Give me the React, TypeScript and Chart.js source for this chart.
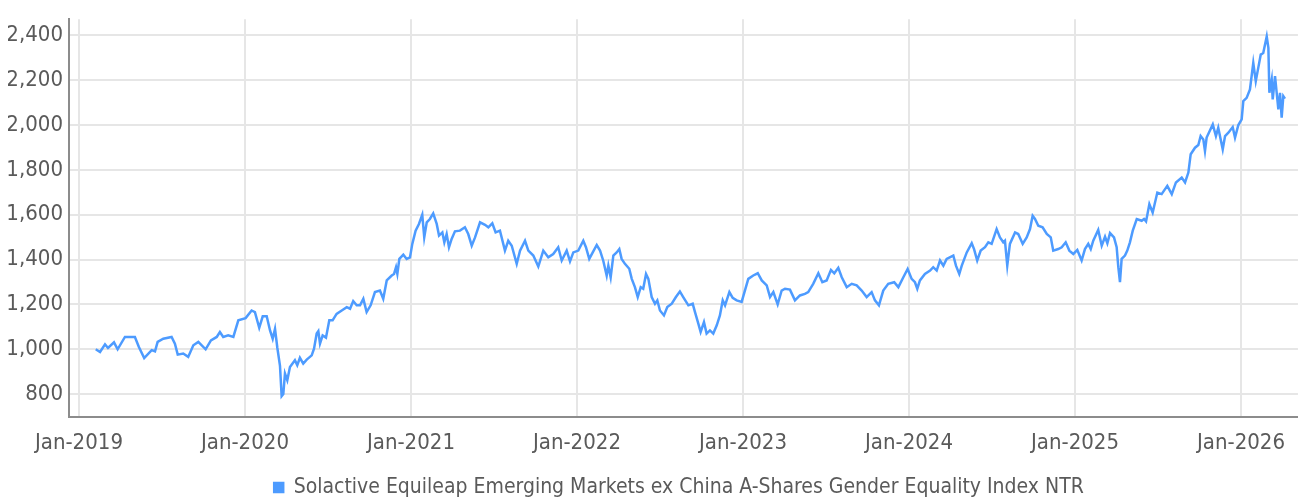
import React, { useEffect, useRef } from "react";
import { Chart, registerables } from "chart.js";

Chart.register(...registerables);

const SERIES_LABEL =
  "Solactive Equileap Emerging Markets ex China A-Shares Gender Equality Index NTR";

const yearTicks = [2019, 2020, 2021, 2022, 2023, 2024, 2025, 2026];
const valueTicks = [800, 1000, 1200, 1400, 1600, 1800, 2000, 2200, 2400];

// time expressed as decimal years
const years2019 = [2019.101, 2019.127, 2019.157, 2019.175, 2019.211, 2019.233, 2019.277, 2019.337, 2019.361, 2019.393, 2019.438, 2019.458, 2019.474, 2019.508, 2019.558, 2019.578, 2019.595, 2019.628, 2019.658, 2019.689, 2019.719, 2019.763, 2019.795, 2019.83, 2019.849, 2019.869, 2019.899, 2019.93, 2019.96];
const values2019 = [1000, 988, 1022, 1006, 1031, 1000, 1055, 1055, 1010, 961, 996, 991, 1033, 1047, 1055, 1025, 976, 981, 966, 1018, 1033, 1000, 1040, 1055, 1077, 1055, 1062, 1055, 1129];

const years2020 = [2020.004, 2020.04, 2020.06, 2020.086, 2020.107, 2020.131, 2020.151, 2020.167, 2020.181, 2020.195, 2020.211, 2020.221, 2020.231, 2020.241, 2020.255, 2020.271, 2020.301, 2020.315, 2020.331, 2020.351, 2020.372, 2020.402, 2020.416, 2020.432, 2020.442, 2020.452, 2020.468, 2020.488, 2020.508, 2020.528, 2020.552, 2020.583, 2020.613, 2020.633, 2020.652, 2020.673, 2020.693, 2020.713, 2020.733, 2020.757, 2020.783, 2020.813, 2020.833, 2020.854, 2020.884, 2020.898, 2020.91, 2020.918, 2020.93, 2020.954, 2020.974, 2020.994];
const values2020 = [1139, 1173, 1166, 1096, 1147, 1147, 1084, 1047, 1091, 1007, 926, 791, 800, 892, 862, 921, 951, 929, 962, 936, 954, 973, 1003, 1070, 1081, 1025, 1062, 1052, 1129, 1129, 1158, 1173, 1188, 1181, 1215, 1196, 1196, 1225, 1166, 1196, 1255, 1262, 1225, 1307, 1329, 1336, 1366, 1336, 1403, 1422, 1403, 1410];

const years2021 = [2021.008, 2021.028, 2021.048, 2021.068, 2021.08, 2021.095, 2021.114, 2021.134, 2021.155, 2021.169, 2021.189, 2021.201, 2021.215, 2021.229, 2021.245, 2021.265, 2021.295, 2021.325, 2021.345, 2021.366, 2021.386, 2021.416, 2021.446, 2021.466, 2021.49, 2021.51, 2021.536, 2021.566, 2021.586, 2021.607, 2021.637, 2021.657, 2021.687, 2021.707, 2021.737, 2021.767, 2021.797, 2021.827, 2021.857, 2021.887, 2021.908, 2021.938, 2021.958, 2021.978];
const values2021 = [1470, 1529, 1559, 1600, 1499, 1566, 1581, 1606, 1559, 1507, 1521, 1477, 1514, 1455, 1492, 1526, 1529, 1544, 1514, 1462, 1499, 1566, 1555, 1544, 1562, 1521, 1529, 1440, 1484, 1462, 1381, 1440, 1484, 1440, 1418, 1369, 1440, 1410, 1425, 1455, 1396, 1440, 1392, 1432];

const years2022 = [2022.008, 2022.038, 2022.054, 2022.074, 2022.095, 2022.119, 2022.139, 2022.158, 2022.179, 2022.189, 2022.203, 2022.219, 2022.239, 2022.255, 2022.269, 2022.289, 2022.315, 2022.33, 2022.349, 2022.366, 2022.384, 2022.399, 2022.416, 2022.43, 2022.45, 2022.47, 2022.484, 2022.5, 2022.524, 2022.544, 2022.571, 2022.596, 2022.62, 2022.64, 2022.671, 2022.697, 2022.711, 2022.731, 2022.745, 2022.765, 2022.781, 2022.801, 2022.821, 2022.842, 2022.861, 2022.878, 2022.892, 2022.918, 2022.938, 2022.962, 2022.992];
const values2022 = [1440, 1484, 1455, 1403, 1432, 1465, 1440, 1396, 1329, 1373, 1321, 1418, 1432, 1447, 1403, 1381, 1359, 1314, 1277, 1233, 1277, 1270, 1336, 1314, 1233, 1203, 1218, 1173, 1151, 1188, 1203, 1233, 1258, 1233, 1196, 1203, 1166, 1114, 1077, 1121, 1070, 1084, 1070, 1107, 1151, 1218, 1196, 1255, 1229, 1218, 1211];

const years2023 = [2023.032, 2023.062, 2023.089, 2023.113, 2023.143, 2023.163, 2023.183, 2023.209, 2023.233, 2023.253, 2023.283, 2023.313, 2023.343, 2023.373, 2023.393, 2023.423, 2023.454, 2023.478, 2023.504, 2023.53, 2023.55, 2023.574, 2023.595, 2023.625, 2023.655, 2023.685, 2023.715, 2023.745, 2023.775, 2023.795, 2023.819, 2023.845, 2023.875, 2023.911, 2023.936, 2023.966, 2023.992];
const values2023 = [1314, 1329, 1339, 1307, 1285, 1233, 1255, 1200, 1262, 1270, 1266, 1218, 1240, 1247, 1255, 1292, 1339, 1299, 1307, 1354, 1339, 1363, 1321, 1277, 1292, 1285, 1262, 1233, 1255, 1218, 1196, 1262, 1292, 1299, 1277, 1321, 1358];

const years2024 = [2024.016, 2024.036, 2024.05, 2024.066, 2024.096, 2024.127, 2024.146, 2024.167, 2024.187, 2024.207, 2024.227, 2024.267, 2024.283, 2024.303, 2024.318, 2024.348, 2024.378, 2024.392, 2024.411, 2024.432, 2024.458, 2024.478, 2024.498, 2024.528, 2024.548, 2024.568, 2024.578, 2024.592, 2024.608, 2024.639, 2024.658, 2024.685, 2024.709, 2024.729, 2024.745, 2024.759, 2024.779, 2024.805, 2024.83, 2024.854, 2024.869, 2024.899, 2024.92, 2024.944, 2024.966, 2024.99];
const values2024 = [1314, 1299, 1270, 1307, 1336, 1351, 1366, 1351, 1396, 1373, 1403, 1418, 1373, 1336, 1373, 1432, 1473, 1447, 1396, 1440, 1455, 1477, 1470, 1536, 1499, 1477, 1484, 1373, 1470, 1521, 1514, 1470, 1499, 1536, 1595, 1581, 1551, 1544, 1514, 1499, 1440, 1447, 1455, 1477, 1440, 1425];

const years2025 = [2025.014, 2025.04, 2025.06, 2025.08, 2025.095, 2025.11, 2025.14, 2025.161, 2025.181, 2025.195, 2025.211, 2025.235, 2025.251, 2025.261, 2025.271, 2025.281, 2025.301, 2025.315, 2025.331, 2025.348, 2025.372, 2025.402, 2025.416, 2025.428, 2025.448, 2025.468, 2025.496, 2025.522, 2025.556, 2025.583, 2025.608, 2025.643, 2025.663, 2025.683, 2025.697, 2025.723, 2025.743, 2025.757, 2025.773, 2025.783, 2025.793, 2025.83, 2025.849, 2025.863, 2025.89, 2025.904, 2025.924, 2025.95, 2025.964, 2025.984];
const values2025 = [1443, 1396, 1447, 1470, 1447, 1484, 1532, 1462, 1502, 1473, 1518, 1499, 1455, 1366, 1299, 1403, 1418, 1440, 1477, 1529, 1581, 1573, 1581, 1570, 1647, 1610, 1699, 1692, 1729, 1692, 1744, 1766, 1744, 1788, 1870, 1899, 1911, 1951, 1936, 1884, 1944, 2003, 1951, 1988, 1892, 1951, 1966, 1991, 1944, 2000];

const years2026 = [2026.004, 2026.014, 2026.034, 2026.054, 2026.074, 2026.089, 2026.104, 2026.119, 2026.134, 2026.155, 2026.165, 2026.171, 2026.185, 2026.191, 2026.205, 2026.215, 2026.225, 2026.235, 2026.245, 2026.255, 2026.265];
const values2026 = [2025, 2107, 2121, 2159, 2277, 2196, 2255, 2314, 2321, 2395, 2344, 2144, 2203, 2114, 2218, 2144, 2070, 2144, 2033, 2129, 2118];

const LINE_COLOR = "#4d9bff";
const TEXT_COLOR = "#5a5a5a";
const FONT_FAMILY = "'DejaVu Sans Condensed', 'Liberation Sans Narrow', sans-serif";

const legendShift = {
  id: "legendShift",
  afterLayout(chart: any) {
    const lg = chart.legend;
    if (lg) {
      lg.left += 26;
      lg.right += 26;
    }
  },
};

export default function App() {
  const ref = useRef<HTMLCanvasElement>(null);

  useEffect(() => {
    if (!ref.current) return;
    const timeYears = [
      ...years2019, ...years2020, ...years2021, ...years2022,
      ...years2023, ...years2024, ...years2025, ...years2026,
    ];
    const indexValues = [
      ...values2019, ...values2020, ...values2021, ...values2022,
      ...values2023, ...values2024, ...values2025, ...values2026,
    ];
    const points = timeYears.map((x, i) => ({ x, y: indexValues[i] }));
    const tickFont = { family: FONT_FAMILY, size: 22 };
    const legendFont = { family: FONT_FAMILY, size: 21 };

    const chart = new Chart(ref.current, {
      type: "line",
      data: {
        datasets: [
          {
            label: SERIES_LABEL,
            data: points,
            borderColor: LINE_COLOR,
            backgroundColor: LINE_COLOR,
            borderWidth: 2.5,
            pointRadius: 0,
            tension: 0,
          },
        ],
      },
      plugins: [legendShift],
      options: {
        responsive: false,
        animation: false,
        devicePixelRatio: 1,
        layout: { padding: { left: 8, top: 16, right: 0, bottom: -10 } },
        plugins: {
          legend: {
            position: "bottom",
            labels: {
              boxWidth: 9,
              boxHeight: 9,
              padding: 10,
              color: TEXT_COLOR,
              font: legendFont,
            },
          },
          tooltip: { enabled: false },
        },
        scales: {
          x: {
            type: "linear",
            min: 2018.94,
            max: 2026.343,
            afterBuildTicks: (s: any) => {
              s.ticks = yearTicks.map((v) => ({ value: v }));
            },
            afterFit: (s: any) => {
              s.height = 50;
            },
            ticks: {
              callback: (v: any) => "Jan-" + v,
              color: TEXT_COLOR,
              font: tickFont,
              padding: 13,
              maxRotation: 0,
              autoSkip: false,
            },
            grid: { color: "#e6e6e6", lineWidth: 2, drawTicks: false },
            border: { color: "#8c8c8c", width: 2 },
          },
          y: {
            min: 698,
            max: 2472,
            afterBuildTicks: (s: any) => {
              s.ticks = valueTicks.map((v) => ({ value: v }));
            },
            afterFit: (s: any) => {
              s.width = 61;
            },
            ticks: {
              callback: (v: any) => Number(v).toLocaleString("en-US"),
              color: TEXT_COLOR,
              font: tickFont,
              padding: 6,
            },
            grid: { color: "#e6e6e6", lineWidth: 2, drawTicks: false },
            border: { color: "#8c8c8c", width: 2 },
          },
        },
      },
    });
    return () => chart.destroy();
  }, []);

  return (
    <div
      style={{
        position: "fixed",
        left: 0,
        top: 0,
        width: 1298,
        height: 498,
        background: "#ffffff",
      }}
    >
      <canvas ref={ref} width={1298} height={498} />
    </div>
  );
}
